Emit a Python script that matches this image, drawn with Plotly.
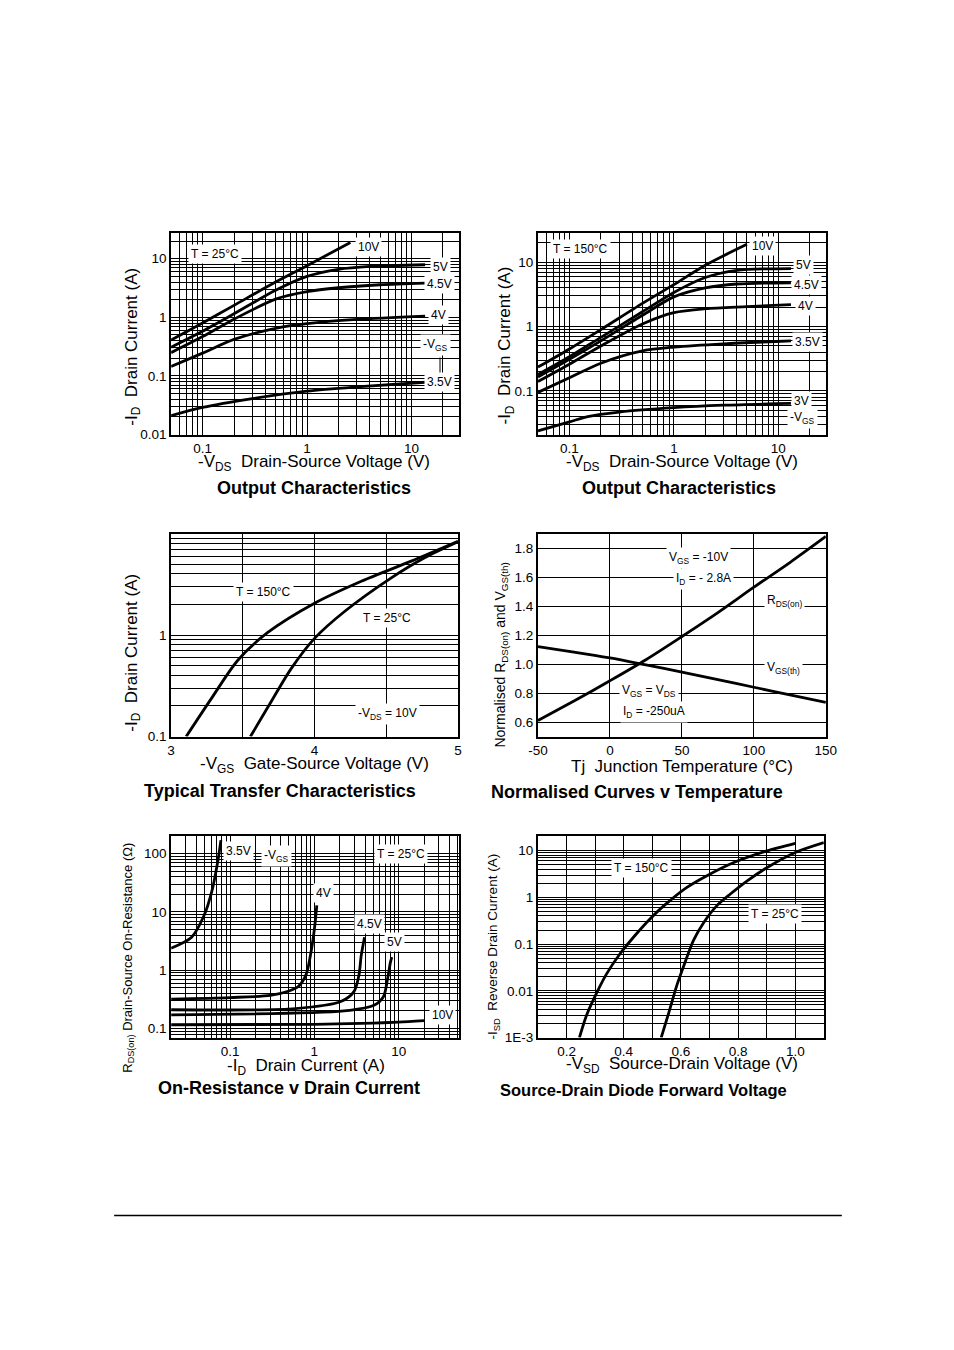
import numpy as np
import plotly.graph_objects as go

# page is 954x1350; the html body has an 8px margin, so the figure is made
# 16px smaller.  Positions below are page pixels; px()/py() map them to paper
# fractions (with a small empirical correction measured on the rendered page).
PAGE_W, PAGE_H, BODY = 954, 1350, 8
W, H = PAGE_W - 2 * BODY, PAGE_H - 2 * BODY
FONT = "Liberation Sans, Arial, sans-serif"
SX, OX = 0.978, 9.0
SY, OY = 0.994, -0.5

# ---------------- DATA ----------------
# Panel 1: Output Characteristics, T = 25°C  (-VDS in V, -ID in A)
oc25_labels = ["10V", "5V", "4.5V", "4V", "3.5V"]
oc25_vds = [
    [0.05, 0.1, 0.2, 0.5, 1.0, 2.6],
    [0.05, 0.1, 0.2, 0.5, 1.0, 2.0, 4.0, 13.5],
    [0.05, 0.1, 0.2, 0.5, 1.0, 2.0, 5.0, 13.5],
    [0.05, 0.1, 0.2, 0.5, 1.0, 3.0, 13.5],
    [0.05, 0.1, 0.3, 1.0, 3.0, 13.5],
]
oc25_id = [
    [0.41, 0.8, 1.6, 4.0, 7.6, 19.0],
    [0.31, 0.58, 1.15, 2.9, 5.0, 6.6, 7.4, 7.9],
    [0.25, 0.47, 0.93, 2.05, 2.75, 3.2, 3.6, 3.85],
    [0.145, 0.245, 0.42, 0.65, 0.78, 0.92, 1.05],
    [0.021, 0.029, 0.041, 0.055, 0.065, 0.078],
]

# Panel 2: Output Characteristics, T = 150°C
oc150_labels = ["10V", "5V", "4.5V", "4V", "3.5V", "3V"]
oc150_vds = [
    [0.05, 0.1, 0.2, 0.5, 1.0, 2.0, 5.0],
    [0.05, 0.1, 0.2, 0.5, 1.0, 2.0, 4.0, 13.2],
    [0.05, 0.1, 0.2, 0.5, 1.0, 2.0, 4.0, 13.2],
    [0.05, 0.1, 0.2, 0.5, 1.0, 2.0, 5.0, 13.2],
    [0.05, 0.1, 0.2, 0.5, 1.0, 3.0, 13.2],
    [0.05, 0.1, 0.15, 0.3, 1.0, 3.0, 13.2],
]
oc150_id = [
    [0.235, 0.45, 0.9, 2.3, 4.5, 9.0, 19.0],
    [0.18, 0.34, 0.68, 1.7, 3.4, 5.8, 7.5, 8.0],
    [0.165, 0.31, 0.6, 1.5, 2.9, 4.0, 4.6, 4.8],
    [0.14, 0.26, 0.5, 1.1, 1.65, 1.9, 2.05, 2.2],
    [0.095, 0.16, 0.27, 0.42, 0.48, 0.54, 0.6],
    [0.024, 0.033, 0.04, 0.047, 0.055, 0.06, 0.064],
]

# Panel 3: Typical Transfer Characteristics (-VGS in V, -ID in A)
tr150_vgs = [3.105, 3.279, 3.465, 3.674, 4.0, 4.326, 4.674, 5.0]
tr150_id = [0.1, 0.235, 0.565, 1.06, 2.06, 3.39, 5.35, 8.4]
tr25_vgs = [3.553, 3.674, 3.837, 4.0, 4.209, 4.535, 4.767, 5.0]
tr25_id = [0.1, 0.194, 0.467, 0.927, 1.705, 3.66, 5.77, 8.3]

# Panel 4: Normalised Curves v Temperature
nt_temp = [-50, -25, 0, 25, 50, 75, 100, 125, 150]
nt_rds = [0.61, 0.745, 0.885, 1.03, 1.19, 1.355, 1.53, 1.70, 1.88]
nt_vth = [1.12, 1.083, 1.042, 0.994, 0.945, 0.893, 0.84, 0.788, 0.735]

# Panel 5: On-Resistance v Drain Current (-ID in A, RDS(on) in ohm)
ron_labels = ["3.5V", "4V", "4.5V", "5V", "10V"]
ron_id = [
    [0.02, 0.035, 0.049, 0.061, 0.072, 0.078],
    [0.02, 0.1, 0.3, 0.5, 0.64, 0.8, 0.91, 1.0, 1.07],
    [0.02, 0.6, 2.06, 2.95, 3.38, 3.6, 3.94],
    [0.02, 2.25, 5.1, 6.6, 7.4, 8.0, 8.3],
    [0.02, 1.0, 5.0, 10.0, 20.0],
]
ron_r = [
    [2.4, 3.7, 8.6, 23.0, 78.0, 170.0],
    [0.32, 0.34, 0.37, 0.44, 0.52, 0.85, 2.0, 5.0, 13.0],
    [0.21, 0.22, 0.29, 0.43, 0.82, 1.8, 3.7],
    [0.172, 0.2, 0.25, 0.35, 0.72, 1.38, 1.68],
    [0.116, 0.118, 0.124, 0.129, 0.137],
]

# Panel 6: Source-Drain Diode Forward Voltage (-VSD in V, -ISD in A)
sd150_v = [0.245, 0.27, 0.299, 0.34, 0.387, 0.434, 0.48, 0.527, 0.568, 0.621, 0.691, 0.785, 0.89, 1.0]
sd150_i = [1e-3, 0.003, 0.0075, 0.023, 0.062, 0.14, 0.29, 0.56, 0.92, 1.63, 2.9, 5.55, 9.4, 14.3]
sd25_v = [0.531, 0.557, 0.586, 0.615, 0.644, 0.68, 0.726, 0.773, 0.832, 0.902, 1.0, 1.1]
sd25_i = [1e-3, 0.0033, 0.0132, 0.0415, 0.12, 0.29, 0.665, 1.18, 2.26, 4.35, 9.1, 14.8]

# ---------------- HELPERS ----------------
def px(x):
    xi = (x - OX) / SX
    return (xi - BODY) / W

def py(y):
    yi = (y - OY) / SY
    return 1 - (yi - BODY) / H

def log_minor(lo, hi):
    vals = []
    for e in range(-4, 4):
        for k in range(2, 10):
            v = k * 10.0 ** e
            if lo * 0.999 <= v <= hi * 1.001:
                vals.append(v)
    return vals

GRID = dict(showgrid=True, gridcolor="black", gridwidth=1)
BORDER = dict(showline=True, linecolor="black", linewidth=2, mirror=True,
              ticks="", zeroline=False, tickfont=dict(family=FONT, size=13.5, color="black"),
              fixedrange=True)

def log_axis(lo, hi, majors, labels, dom):
    return dict(type="log", range=[np.log10(lo), np.log10(hi)], domain=dom,
                tickmode="array", tickvals=majors, ticktext=labels,
                minor=dict(tickvals=log_minor(lo, hi), showgrid=True,
                           gridcolor="black", gridwidth=1, ticks=""),
                **GRID, **BORDER)

def lin_axis(lo, hi, majors, labels, dom, minors=None):
    d = dict(type="linear", range=[lo, hi], domain=dom, tickmode="array",
             tickvals=majors, ticktext=labels, **GRID, **BORDER)
    if minors:
        d["minor"] = dict(tickvals=minors, showgrid=True, gridcolor="black",
                          gridwidth=1, ticks="")
    return d

def xdom(a, b):
    return [px(a), px(b)]

def ydom(top, bot):
    return [py(bot), py(top)]

fig = go.Figure()
LINE = dict(color="black", width=2.8)

def add(xs, ys, ax):
    fig.add_trace(go.Scatter(x=xs, y=ys, mode="lines", line=dict(LINE, shape="spline", smoothing=0.8),
                             xaxis="x" + ax, yaxis="y" + ax, showlegend=False,
                             hoverinfo="skip"))

for xs, ys in zip(oc25_vds, oc25_id):
    add(xs, ys, "")
for xs, ys in zip(oc150_vds, oc150_id):
    add(xs, ys, "2")
add(tr150_vgs, tr150_id, "3")
add(tr25_vgs, tr25_id, "3")
add(nt_temp, nt_rds, "4")
add(nt_temp, nt_vth, "4")
for xs, ys in zip(ron_id, ron_r):
    add(xs, ys, "5")
add(sd150_v, sd150_i, "6")
add(sd25_v, sd25_i, "6")

layout = dict(
    width=W, height=H, margin=dict(l=0, r=0, t=0, b=0),
    paper_bgcolor="white", plot_bgcolor="white", showlegend=False,
    font=dict(family=FONT, color="black"),
)

# panel 1
layout["xaxis"] = log_axis(0.05, 28.5, [0.1, 1, 10], ["0.1", "1", "10"], xdom(170, 458))
layout["yaxis"] = log_axis(0.01, 28, [0.01, 0.1, 1, 10], ["0.01", "0.1", "1", "10"], ydom(232, 434))
# panel 2
layout["xaxis2"] = log_axis(0.05, 28.5, [0.1, 1, 10], ["0.1", "1", "10"], xdom(537, 825))
layout["yaxis2"] = log_axis(0.021, 29, [0.1, 1, 10], ["0.1", "1", "10"], ydom(232, 434))
# panel 3
layout["xaxis3"] = lin_axis(3, 5, [3, 4, 5], ["3", "4", "5"], xdom(170, 457), minors=[3.5, 4.5])
layout["yaxis3"] = log_axis(0.1, 10, [0.1, 1], ["0.1", "1"], ydom(533, 736))
# panel 4
layout["xaxis4"] = lin_axis(-50, 150, [-50, 0, 50, 100, 150], ["-50", "0", "50", "100", "150"], xdom(537, 825))
layout["yaxis4"] = lin_axis(0.5, 1.9, [0.6, 0.8, 1.0, 1.2, 1.4, 1.6, 1.8],
                            ["0.6", "0.8", "1.0", "1.2", "1.4", "1.6", "1.8"], ydom(533, 736))
# panel 5
layout["xaxis5"] = log_axis(0.02, 52, [0.1, 1, 10], ["0.1", "1", "10"], xdom(170, 458))
layout["yaxis5"] = log_axis(0.07, 205, [0.1, 1, 10, 100], ["0.1", "1", "10", "100"], ydom(835, 1037))
# panel 6
layout["xaxis6"] = lin_axis(0.1, 1.1, [0.2, 0.4, 0.6, 0.8, 1.0], ["0.2", "0.4", "0.6", "0.8", "1.0"],
                            xdom(537, 823), minors=[0.3, 0.5, 0.7, 0.9])
layout["yaxis6"] = log_axis(1e-3, 21, [1e-3, 0.01, 0.1, 1, 10], ["1E-3", "0.01", "0.1", "1", "10"],
                            ydom(835, 1037))

for i in ["", "2", "3", "4", "5", "6"]:
    layout["xaxis" + i]["anchor"] = "y" + i
    layout["yaxis" + i]["anchor"] = "x" + i

fig.update_layout(**layout)

NB = "\u00a0"
ann = []

def label(x, y, text, size=12, bg="white", angle=0, bold=False):
    t = "<b>" + text + "</b>" if bold else text
    ann.append(dict(x=px(x), y=py(y), xref="paper", yref="paper", text=t, showarrow=False,
                    xanchor="center", yanchor="middle", textangle=angle,
                    font=dict(family=FONT, size=size, color="black"),
                    bgcolor=bg, borderpad=2 if bg else 0))

# Panel 1 labels
label(214, 253, "T = 25°C")
label(367, 246, "10V")
label(439, 266, "5V")
label(438, 283, "4.5V")
label(437, 314, "4V")
label(434, 344, "-V<sub>GS</sub>")
label(438, 381, "3.5V")
# Panel 2 labels
label(580, 248, "T = 150°C")
label(762, 245, "10V")
label(803, 264, "5V")
label(806, 284, "4.5V")
label(805, 305, "4V")
label(807, 341, "3.5V")
label(801, 400, "3V")
label(802, 417, "-V<sub>GS</sub>")
# Panel 3 labels
label(262, 591, "T = 150°C")
label(386, 617, "T = 25°C")
label(386, 713, "-V<sub>DS</sub> = 10V")
# Panel 4 labels
label(698, 557, "V<sub>GS</sub> = -10V")
label(703, 578, "I<sub>D</sub> = - 2.8A")
label(784, 600, "R<sub>DS(on)</sub>")
label(783, 667, "V<sub>GS(th)</sub>")
label(648, 690, "V<sub>GS</sub> = V<sub>DS</sub>")
label(653, 711, "I<sub>D</sub> = -250uA")
# Panel 5 labels
label(237, 850, "3.5V")
label(275, 855, "-V<sub>GS</sub>")
label(400, 853, "T = 25°C")
label(322, 892, "4V")
label(368, 923, "4.5V")
label(393, 941, "5V")
label(441, 1014, "10V")
# Panel 6 labels
label(641, 867, "T = 150°C")
label(774, 913, "T = 25°C")

# axis titles
AT = 17
label(131, 346, "-I<sub>D</sub>" + NB * 2 + "Drain Current (A)", size=AT, bg=None, angle=-90)
label(313, 462, "-V<sub>DS</sub>" + NB * 2 + "Drain-Source Voltage (V)", size=AT, bg=None)
label(505, 345, "-I<sub>D</sub>" + NB * 2 + "Drain Current (A)", size=AT, bg=None, angle=-90)
label(681, 462, "-V<sub>DS</sub>" + NB * 2 + "Drain-Source Voltage (V)", size=AT, bg=None)
label(131, 652, "-I<sub>D</sub>" + NB * 2 + "Drain Current (A)", size=AT, bg=None, angle=-90)
label(313, 764, "-V<sub>GS</sub>" + NB * 2 + "Gate-Source Voltage (V)", size=AT, bg=None)
label(500, 654, "Normalised R<sub>DS(on)</sub> and V<sub>GS(th)</sub>", size=14, bg=None, angle=-90)
label(681, 766, "Tj" + NB * 2 + "Junction Temperature (°C)", size=AT, bg=None)
label(127, 957, "R<sub>DS(on)</sub> Drain-Source On-Resistance (Ω)", size=13, bg=None, angle=-90)
label(305, 1066, "-I<sub>D</sub>" + NB * 2 + "Drain Current (A)", size=AT, bg=None)
label(493, 946, "-I<sub>SD</sub>" + NB * 2 + "Reverse Drain Current (A)", size=13.5, bg=None, angle=-90)
label(681, 1064, "-V<sub>SD</sub>" + NB * 2 + "Source-Drain Voltage (V)", size=AT, bg=None)

# chart titles
label(313, 487, "Output Characteristics", size=18, bg=None, bold=True)
label(678, 487, "Output Characteristics", size=18, bg=None, bold=True)
label(279, 790, "Typical Transfer Characteristics", size=18, bg=None, bold=True)
label(636, 791, "Normalised Curves v Temperature", size=18, bg=None, bold=True)
label(288, 1087, "On-Resistance v Drain Current", size=18, bg=None, bold=True)
label(643, 1089, "Source-Drain Diode Forward Voltage", size=16.5, bg=None, bold=True)

shapes = [
    dict(type="line", xref="paper", yref="paper", x0=px(439), x1=px(439), y0=py(357), y1=py(373),
         line=dict(color="black", width=1)),
    dict(type="line", xref="paper", yref="paper", x0=px(113), x1=px(841), y0=py(1215), y1=py(1215),
         line=dict(color="black", width=1.5)),
]

fig.update_layout(annotations=ann, shapes=shapes)
fig.write_html("out.html")
